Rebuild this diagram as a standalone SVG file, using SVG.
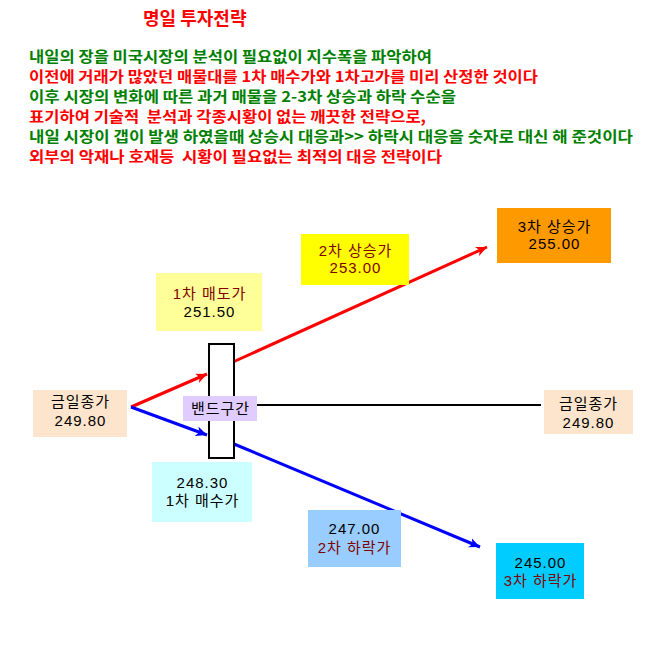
<svg xmlns="http://www.w3.org/2000/svg" width="660" height="646" viewBox="0 0 660 646">
<style>
.t{font-family:"Noto Sans CJK KR","Liberation Sans",sans-serif;font-weight:bold;font-size:15px}
.g{fill:#008000}
.r{fill:#ff0000}
.n{font-family:"Liberation Sans","Noto Sans CJK KR",sans-serif;font-size:15px;letter-spacing:1px;text-anchor:middle;fill:#000}
.dr{fill:#800000}
</style>
<defs>
<marker id="ar" markerUnits="userSpaceOnUse" markerWidth="12" markerHeight="10" refX="11" refY="5" orient="auto"><path d="M0,0 L11,5 L0,10 L3,5 Z" fill="#ff0000"/></marker>
<marker id="ab" markerUnits="userSpaceOnUse" markerWidth="12" markerHeight="10" refX="11" refY="5" orient="auto"><path d="M0,0 L11,5 L0,10 L3,5 Z" fill="#0000ff"/></marker>
</defs>
<rect width="660" height="646" fill="#fff"/>
<g id="header">
<text x="143" y="25" font-family="Noto Sans CJK KR, sans-serif" font-weight="bold" font-size="18" fill="#ff0000">명일 투자전략</text>
<text class="t g" x="29" y="62" textLength="403" lengthAdjust="spacingAndGlyphs">내일의 장을 미국시장의 분석이 필요없이 지수폭을 파악하여</text>
<text class="t r" x="29" y="82" textLength="509" lengthAdjust="spacingAndGlyphs">이전에 거래가 많았던 매물대를 1차 매수가와 1차고가를 미리 산정한 것이다</text>
<text class="t g" x="29" y="102" textLength="427" lengthAdjust="spacingAndGlyphs">이후 시장의 변화에 따른 과거 매물을 2-3차 상승과 하락 수순을</text>
<text class="t r" x="29" y="122" textLength="397" lengthAdjust="spacingAndGlyphs" xml:space="preserve">표기하여 기술적  분석과 각종시황이 없는 깨끗한 전략으로,</text>
<text class="t g" x="29" y="142" textLength="604" lengthAdjust="spacingAndGlyphs">내일 시장이 갭이 발생 하였을때 상승시 대응과&gt;&gt; 하락시 대응을 숫자로 대신 해 준것이다</text>
<text class="t r" x="29" y="162" textLength="413" lengthAdjust="spacingAndGlyphs" xml:space="preserve">외부의 악재나 호재등  시황이 필요없는 최적의 대응 전략이다</text>
</g>
<g id="connectors" fill="none">
<line x1="131" y1="407" x2="207" y2="374" stroke="#ff0000" stroke-width="3" marker-end="url(#ar)"/>
<line x1="233" y1="362" x2="487" y2="247" stroke="#ff0000" stroke-width="3" marker-end="url(#ar)"/>
<line x1="131" y1="407" x2="207" y2="435" stroke="#0000ff" stroke-width="3" marker-end="url(#ab)"/>
<line x1="234" y1="444" x2="480" y2="547" stroke="#0000ff" stroke-width="3" marker-end="url(#ab)"/>
<line x1="257" y1="405" x2="541" y2="405" stroke="#000" stroke-width="2"/>
</g>
<g id="band">
<rect x="209" y="344" width="25" height="114" fill="#fff" stroke="#000" stroke-width="2"/>
</g>
<g id="band-label">
<rect x="183" y="396" width="74" height="25" fill="#e0ccff"/>
<text class="n" x="220.5" y="414">밴드구간</text>
</g>
<g id="close-left">
<rect x="33" y="390" width="94" height="47" fill="#fde4cc"/>
<text class="n" x="80.5" y="407">금일종가</text>
<text class="n" x="80.5" y="426">249.80</text>
</g>
<g id="sell1">
<rect x="156" y="273" width="106" height="58" fill="#ffff99"/>
<text class="n dr" x="209.5" y="299">1차 매도가</text>
<text class="n" x="209.5" y="317">251.50</text>
</g>
<g id="up2">
<rect x="301" y="234" width="108" height="51" fill="#ffff00"/>
<text class="n dr" x="355.5" y="256">2차 상승가</text>
<text class="n dr" x="355.5" y="273">253.00</text>
</g>
<g id="up3">
<rect x="497" y="208" width="114" height="55" fill="#ff9900"/>
<text class="n" x="554.5" y="232">3차 상승가</text>
<text class="n" x="554.5" y="249">255.00</text>
</g>
<g id="close-right">
<rect x="544" y="390" width="89" height="44" fill="#fde4cc"/>
<text class="n" x="588.5" y="409">금일종가</text>
<text class="n" x="588.5" y="428">249.80</text>
</g>
<g id="buy1">
<rect x="152" y="462" width="100" height="60" fill="#ccffff"/>
<text class="n" x="202.5" y="488">248.30</text>
<text class="n" x="202.5" y="506">1차 매수가</text>
</g>
<g id="down2">
<rect x="308" y="510" width="93" height="57" fill="#99ccff"/>
<text class="n" x="354.5" y="534">247.00</text>
<text class="n dr" x="354.5" y="553">2차 하락가</text>
</g>
<g id="down3">
<rect x="496" y="543" width="88" height="56" fill="#00ccff"/>
<text class="n" x="540.5" y="568">245.00</text>
<text class="n dr" x="540.5" y="586">3차 하락가</text>
</g>
</svg>
